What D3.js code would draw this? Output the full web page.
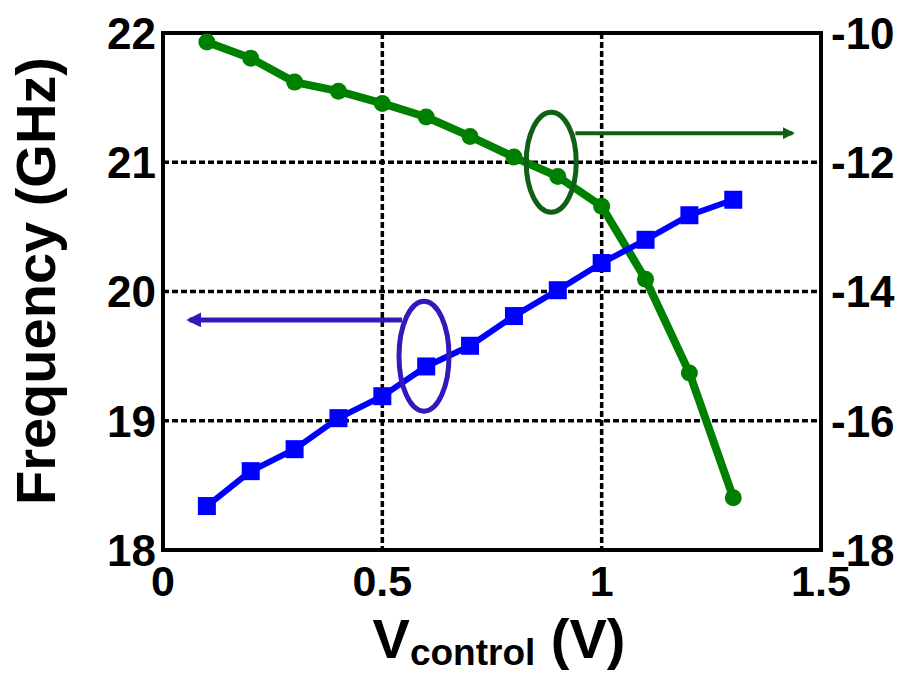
<!DOCTYPE html>
<html>
<head>
<meta charset="utf-8">
<script src="https://cdn.jsdelivr.net/npm/d3@7"></script>
<style>
  body { margin: 0; background: #fff; }
  text { font-family: "Liberation Sans", Arial, sans-serif; font-weight: bold; }
</style>
</head>
<body>
<div class="canvas"></div>
<script>
const vControl = [0.1, 0.2, 0.3, 0.4, 0.5, 0.6, 0.7, 0.8, 0.9, 1.0, 1.1, 1.2, 1.3];
const freqGHz = [18.34, 18.61, 18.78, 19.02, 19.19, 19.42, 19.58, 19.81, 20.01, 20.22, 20.40, 20.59, 20.71];
const rightVals = [-10.14, -10.39, -10.76, -10.9, -11.09, -11.30, -11.60, -11.92, -12.22, -12.68, -13.81, -15.26, -17.19];
const xTicks = [0, 0.5, 1, 1.5];
const yLeftTicks = [18, 19, 20, 21, 22];
const yRightTicks = [-18, -16, -14, -12, -10];

const dims = { width: 903, height: 675 };
const plot = { left: 163, right: 821, top: 33, bottom: 550 };

const svg = d3.select(".canvas")
  .append("svg")
  .attr("width", dims.width)
  .attr("height", dims.height);

const x = d3.scaleLinear().domain([0, 1.5]).range([plot.left, plot.right]);
const yL = d3.scaleLinear().domain([18, 22]).range([plot.bottom, plot.top]);
const yR = d3.scaleLinear().domain([-18, -10]).range([plot.bottom, plot.top]);

// grid lines (dashed)
const grid = svg.append("g")
  .attr("stroke", "#000")
  .attr("stroke-width", 3.5)
  .attr("stroke-dasharray", "6,3");

grid.selectAll(".hg")
  .data([19, 20, 21])
  .enter().append("line")
  .attr("x1", plot.left).attr("x2", plot.right)
  .attr("y1", d => yL(d)).attr("y2", d => yL(d));

grid.selectAll(".vg")
  .data([0.5, 1])
  .enter().append("line")
  .attr("y1", plot.top).attr("y2", plot.bottom)
  .attr("x1", d => x(d)).attr("x2", d => x(d));

// frame
svg.append("rect")
  .attr("x", plot.left).attr("y", plot.top)
  .attr("width", plot.right - plot.left)
  .attr("height", plot.bottom - plot.top)
  .attr("fill", "none")
  .attr("stroke", "#000")
  .attr("stroke-width", 4);

// tick labels
svg.selectAll(".xt")
  .data(xTicks)
  .enter().append("text")
  .attr("x", d => x(d))
  .attr("y", 596)
  .attr("text-anchor", "middle")
  .attr("font-size", 43)
  .text(d => d);

svg.selectAll(".ylt")
  .data(yLeftTicks)
  .enter().append("text")
  .attr("x", 156)
  .attr("y", d => yL(d))
  .attr("dy", "0.36em")
  .attr("text-anchor", "end")
  .attr("font-size", 44)
  .text(d => d);

svg.selectAll(".yrt")
  .data(yRightTicks)
  .enter().append("text")
  .attr("x", 831)
  .attr("y", d => yR(d))
  .attr("dy", "0.36em")
  .attr("text-anchor", "start")
  .attr("font-size", 44)
  .text(d => "-" + Math.abs(d));

// axis titles
svg.append("text")
  .attr("transform", "translate(55, 281) rotate(-90)")
  .attr("text-anchor", "middle")
  .attr("font-size", 56)
  .text("Frequency (GHz)");

const xt = svg.append("text")
  .attr("x", 499)
  .attr("y", 658)
  .attr("text-anchor", "middle")
  .attr("font-size", 56);
xt.append("tspan").text("V");
xt.append("tspan").attr("font-size", 37).attr("dy", 7).text("control");
xt.append("tspan").attr("dy", -7).text(" (V)");

// green series (right axis)
const greenLine = d3.line().x((d, i) => x(vControl[i])).y(d => yR(d));
svg.append("path")
  .attr("d", greenLine(rightVals))
  .attr("fill", "none")
  .attr("stroke", "#008000")
  .attr("stroke-width", 8)
  .attr("stroke-linejoin", "round");

svg.selectAll(".gm")
  .data(rightVals)
  .enter().append("circle")
  .attr("cx", (d, i) => x(vControl[i]))
  .attr("cy", d => yR(d))
  .attr("r", 8.5)
  .attr("fill", "#008000");

// blue series (left axis)
const blueLine = d3.line().x((d, i) => x(vControl[i])).y(d => yL(d));
svg.append("path")
  .attr("d", blueLine(freqGHz))
  .attr("fill", "none")
  .attr("stroke", "#0000ff")
  .attr("stroke-width", 6);

svg.selectAll(".bm")
  .data(freqGHz)
  .enter().append("rect")
  .attr("x", (d, i) => x(vControl[i]) - 9)
  .attr("y", d => yL(d) - 9)
  .attr("width", 18)
  .attr("height", 18)
  .attr("fill", "#0000ff");

// annotation ellipses and arrows
const defs = svg.append("defs");
const marker = (id, color) => {
  defs.append("marker")
    .attr("id", id)
    .attr("viewBox", "0 0 10 10")
    .attr("refX", 8).attr("refY", 5)
    .attr("markerWidth", 3).attr("markerHeight", 3)
    .attr("orient", "auto")
    .append("path")
    .attr("d", "M0,0 L10,5 L0,10 z")
    .attr("fill", color);
};
marker("arrG", "#0f5f14");
marker("arrB", "#3119bb");

svg.append("ellipse")
  .attr("cx", x(0.885)).attr("cy", yL(21.0))
  .attr("rx", 25).attr("ry", 50)
  .attr("fill", "none").attr("stroke", "#0f5f14").attr("stroke-width", 5);
svg.append("line")
  .attr("x1", x(0.94)).attr("y1", yR(-11.55))
  .attr("x2", x(1.435)).attr("y2", yR(-11.55))
  .attr("stroke", "#0f5f14").attr("stroke-width", 4)
  .attr("marker-end", "url(#arrG)");

svg.append("ellipse")
  .attr("cx", x(0.595)).attr("cy", yL(19.5))
  .attr("rx", 25).attr("ry", 55)
  .attr("fill", "none").attr("stroke", "#3119bb").attr("stroke-width", 5);
svg.append("line")
  .attr("x1", x(0.545)).attr("y1", yL(19.78))
  .attr("x2", x(0.06)).attr("y2", yL(19.78))
  .attr("stroke", "#3119bb").attr("stroke-width", 5)
  .attr("marker-end", "url(#arrB)");
</script>
</body>
</html>
